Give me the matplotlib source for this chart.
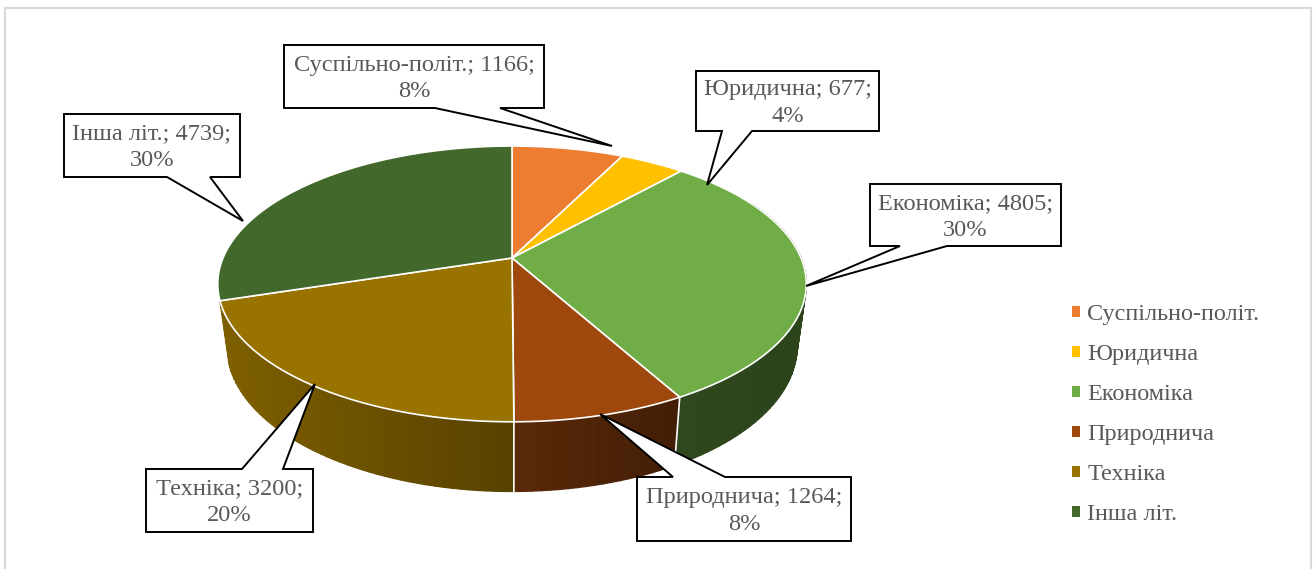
import numpy as np
import matplotlib
matplotlib.use('Agg')
import matplotlib.pyplot as plt
from matplotlib.patches import Patch, Polygon

plt.rcParams['font.family'] = ['Liberation Serif', 'DejaVu Serif']

categories = ['Суспільно-політ.', 'Юридична', 'Економіка', 'Природнича', 'Техніка', 'Інша літ.']
values = [1166, 677, 4805, 1264, 3200, 4739]
percents = [8, 4, 30, 8, 20, 30]
colors = ['#ED7D31', '#FFC000', '#70AD47', '#9E480E', '#997300', '#43682B']

TXT = '#595959'
CX, CY = 512, 258      # apex of the pie
K = 0.188              # perspective
TOP_A, TOP_B = 289, 133
LOW_A, LOW_B, LOW_Y = 280, 140, 319

# box: x0, y0, x1, y1, tail base a, tail base b, tip x, tip y, side
boxes = {
    'Суспільно-політ.': (284, 45, 544, 108, 435, 500, 612, 146, 'bottom'),
    'Юридична': (696, 71, 879, 131, 722, 752, 707, 185, 'bottom'),
    'Економіка': (870, 184, 1061, 246, 900, 947, 806, 286, 'bottom'),
    'Природнича': (637, 477, 851, 541, 673, 725, 600, 414, 'top'),
    'Техніка': (146, 469, 313, 532, 242, 283, 315, 384, 'top'),
    'Інша літ.': (64, 114, 240, 177, 167, 210, 243, 221, 'bottom'),
}


def top_ring(t):
    u, v = np.sin(t), np.cos(t)
    d = 1 + K * v
    return CX + TOP_A * u / d, CY - TOP_B * v / d


def low_ring(t):
    u, v = np.sin(t), np.cos(t)
    d = 1 + K * v
    return CX + LOW_A * u / d, LOW_Y - LOW_B * v / d


def darker(col, f):
    r, g, b = matplotlib.colors.to_rgb(col)
    return (r * f, g * f, b * f)


fig = plt.figure(figsize=(13.16, 5.69), dpi=100)
ax = fig.add_axes([0, 0, 1, 1])
ax.set_xlim(0, 1316)
ax.set_ylim(569, 0)
ax.axis('off')

# chart frame
ax.plot([5, 5, 1311, 1311], [569, 8, 8, 569], color='#D9D9D9', lw=1.5, zorder=1)

edges = np.concatenate([[0], np.cumsum(values)]) / sum(values) * 2 * np.pi

# side wall, cut in thin strips for the shading. the last slice sits at the back, no wall
for i, col in enumerate(colors[:-1]):
    ts = np.linspace(edges[i], edges[i + 1], max(int((edges[i + 1] - edges[i]) * 40), 2))
    for t0, t1 in zip(ts[:-1], ts[1:]):
        if np.cos((t0 + t1) / 2) > 0.45:
            continue
        x0, y0 = top_ring(t0)
        x1, y1 = top_ring(t1)
        x2, y2 = low_ring(t1)
        x3, y3 = low_ring(t0)
        f = np.interp((x0 + x1) / 2, [226, 513, 679, 800], [0.82, 0.57, 0.42, 0.39])
        c = darker(col, f)
        ax.fill([x0, x1, x2, x3], [y0, y1, y2, y3], facecolor=c, edgecolor=c, lw=1.0, zorder=2)

# white edges on the wall
for t in edges[:-1]:
    if np.cos(t) < -0.5:
        x0, y0 = top_ring(t)
        x1, y1 = low_ring(t)
        ax.plot([x0, x1], [y0, y1], color='white', lw=1.2, zorder=3)

# top face
for i, col in enumerate(colors):
    ts = np.linspace(edges[i], edges[i + 1], 150)
    xs, ys = top_ring(ts)
    ax.fill(np.r_[CX, xs], np.r_[CY, ys], facecolor=col, edgecolor='white', lw=1.2,
            joinstyle='miter', zorder=4)

# callouts
for name, val, pct in zip(categories, values, percents):
    x0, y0, x1, y1, a, b, tx, ty, side = boxes[name]
    if side == 'bottom':
        pts = [(x0, y0), (x1, y0), (x1, y1), (b, y1), (tx, ty), (a, y1), (x0, y1)]
    else:
        pts = [(x0, y0), (a, y0), (tx, ty), (b, y0), (x1, y0), (x1, y1), (x0, y1)]
    ax.add_patch(Polygon(pts, closed=True, facecolor='white', edgecolor='black', lw=1.4,
                         joinstyle='miter', zorder=5))
    ax.text((x0 + x1) / 2, (y0 + y1) / 2 + 2, f'{name}; {val};\n{pct}%', ha='center', va='center',
            fontsize=17.6, color=TXT, linespacing=1.36, zorder=6)

handles = [Patch(facecolor=c, edgecolor='none', label=n) for n, c in zip(categories, colors)]
ax.legend(handles=handles, loc='upper left', bbox_to_anchor=(1065 / 1316, 1 - 297 / 569),
          frameon=False, fontsize=17.5, labelcolor=TXT, handlelength=0.33, handleheight=0.33,
          handletextpad=0.29, labelspacing=0.78, borderpad=0.3, borderaxespad=0)

fig.savefig('out.png', dpi=100)
